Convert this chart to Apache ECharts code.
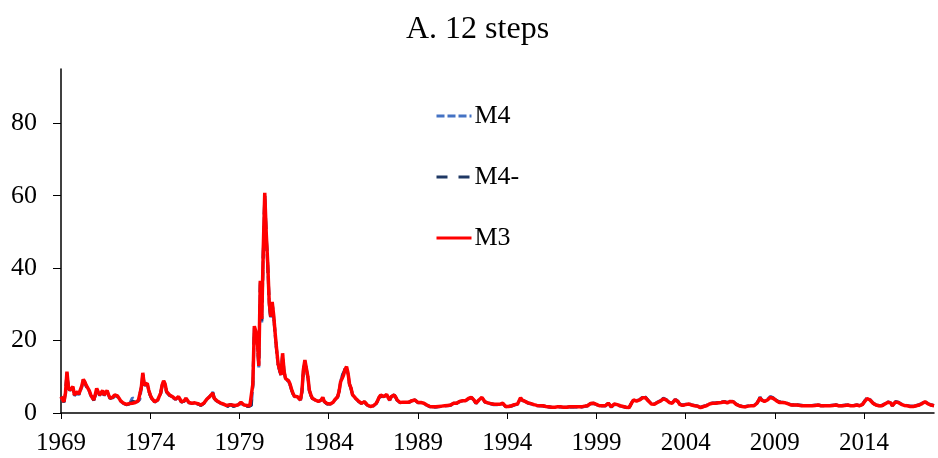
<!DOCTYPE html>
<html>
<head>
<meta charset="utf-8">
<title>A. 12 steps</title>
<script src="https://cdn.jsdelivr.net/npm/echarts/dist/echarts.min.js"></script>
<style>
    html, body {margin: 0; padding: 0; background: #fff;}
    #main_echart {width: 938px; height: 458px;}
</style>
</head>
<body>
<div id="main_echart"></div>
<script>
//monthly series, 1969-01 .. 2017-12
var firstYear = 1969;
var lastYear = 2017;
var yearTicks = ['1969', '1974', '1979', '1984', '1989', '1994', '1999', '2004', '2009', '2014'];
var yTicks = [0, 20, 40, 60, 80];
var seriesNames = ['M4', 'M4-', 'M3'];

var m4List = [
    4.3, 3.6, 3.0, 5.3, 11.0, 6.8, 6.0, 6.5, 7.0, 4.8, 5.2, 5.6,
    5.0, 4.8, 7.2, 9.0, 8.3, 7.3, 7.0, 6.0, 4.8, 4.1, 3.5, 4.8,
    6.5, 5.6, 4.8, 5.4, 6.0, 4.8, 5.4, 6.0, 4.8, 4.0, 3.5, 4.2,
    4.8, 5.2, 4.5, 4.0, 3.3, 2.8, 2.6, 2.4, 2.3, 2.3, 2.5, 2.4,
    4.2, 4.5, 3.6, 3.0, 3.3, 3.7, 6.8, 10.8, 7.5, 7.6, 8.0, 6.1,
    4.8, 4.0, 3.5, 3.0, 3.2, 3.5, 3.8, 5.3, 7.5, 8.7, 7.8, 5.7,
    5.2, 4.8, 4.7, 4.3, 4.0, 3.7, 3.7, 4.4, 3.7, 3.0, 3.5, 3.3,
    4.0, 3.4, 2.8, 2.7, 2.6, 2.6, 2.7, 2.8, 2.5, 2.3, 2.1, 2.3,
    2.6, 3.1, 3.7, 4.2, 4.6, 5.0, 5.8, 4.2, 3.5, 3.2, 3.0, 2.7,
    2.5, 2.4, 2.2, 2.0, 1.8, 2.1, 2.4, 2.1, 1.8, 2.0, 2.1, 2.1,
    2.5, 2.9, 2.5, 2.1, 1.9, 2.0, 1.8, 1.9, 2.1, 7.6, 23.5, 22.0,
    19.6, 12.6, 35.5, 25.0, 44.0, 60.0, 48.5, 40.5, 30.0, 26.0, 30.0, 26.5,
    21.5, 17.0, 13.2, 11.6, 10.3, 16.0, 11.2, 9.3, 8.9, 8.7, 7.8, 6.3,
    5.3, 4.5, 4.0, 4.4, 4.1, 3.5, 5.8, 11.6, 14.2, 13.9, 9.7, 6.1,
    4.9, 4.0, 3.7, 3.5, 3.3, 3.1, 3.3, 3.5, 4.2, 3.1, 2.6, 2.5,
    2.4, 2.4, 2.5, 2.9, 3.5, 3.9, 4.4, 6.0, 8.8, 10.2, 11.5, 12.2,
    12.5, 10.8, 7.8, 6.7, 5.0, 4.5, 4.0, 3.7, 3.2, 3.1, 2.6, 2.9,
    3.0, 2.5, 2.1, 1.9, 1.7, 1.6, 1.9, 2.3, 2.6, 3.4, 4.3, 4.8,
    4.6, 4.4, 4.7, 5.0, 4.1, 3.5, 4.4, 4.5, 4.9, 4.3, 3.5, 3.1,
    2.8, 2.6, 2.9, 3.2, 2.9, 2.6, 2.9, 3.2, 3.3, 3.4, 3.5, 3.1,
    2.8, 2.6, 2.8, 3.0, 2.6, 2.2, 2.1, 1.9, 1.7, 1.6, 1.6, 1.6,
    1.6, 1.7, 1.7, 1.8, 1.8, 1.9, 1.9, 1.9, 2.0, 2.0, 2.1, 2.3,
    2.6, 2.6, 2.6, 2.7, 3.1, 3.5, 3.3, 3.2, 3.3, 3.5, 3.9, 4.4,
    4.2, 4.0, 3.3, 2.6, 2.9, 3.5, 3.8, 4.2, 3.6, 3.0, 2.8, 2.7,
    2.6, 2.5, 2.4, 2.3, 2.3, 2.3, 2.3, 2.3, 2.4, 2.6, 2.2, 1.7,
    1.6, 1.7, 1.8, 1.9, 2.1, 2.2, 2.3, 2.4, 2.6, 4.1, 3.5, 3.3,
    3.1, 2.9, 2.7, 2.6, 2.5, 2.3, 2.2, 2.1, 2.0, 1.9, 1.9, 1.9,
    1.9, 1.8, 1.7, 1.6, 1.6, 1.6, 1.5, 1.5, 1.5, 1.6, 1.6, 1.6,
    1.6, 1.6, 1.5, 1.5, 1.5, 1.5, 1.6, 1.6, 1.6, 1.6, 1.6, 1.6,
    1.6, 1.6, 1.6, 1.7, 1.8, 1.9, 1.9, 2.1, 2.5, 3.0, 2.6, 2.3,
    2.3, 2.1, 1.9, 1.9, 1.9, 1.9, 1.9, 2.2, 2.6, 2.2, 1.6, 1.9,
    2.4, 2.6, 2.2, 1.9, 1.9, 1.8, 1.7, 1.6, 1.5, 1.5, 1.4, 1.4,
    3.1, 3.8, 3.6, 3.4, 3.5, 3.7, 3.9, 4.4, 4.9, 4.4, 4.0, 3.4,
    3.0, 2.6, 2.3, 2.5, 2.8, 3.0, 3.2, 3.4, 3.8, 4.1, 4.4, 3.7,
    3.2, 3.0, 2.9, 2.8, 3.3, 3.8, 4.1, 3.2, 2.5, 2.4, 2.2, 2.1,
    2.4, 2.8, 2.6, 2.4, 2.3, 2.2, 2.1, 2.1, 2.0, 1.8, 1.6, 1.7,
    1.9, 2.0, 2.1, 2.3, 2.6, 2.8, 2.8, 2.8, 2.8, 2.8, 2.9, 2.9,
    3.0, 3.1, 3.2, 3.1, 2.9, 2.8, 3.3, 3.8, 3.2, 2.8, 2.5, 2.3,
    2.1, 2.0, 1.9, 1.8, 1.8, 1.9, 2.0, 2.1, 2.1, 2.1, 2.1, 2.4,
    2.8, 3.5, 4.4, 3.7, 3.2, 3.3, 3.5, 3.8, 4.2, 4.6, 5.0, 4.2,
    3.8, 3.5, 3.2, 3.0, 3.0, 3.0, 3.0, 2.9, 2.8, 2.6, 2.4, 2.3,
    2.3, 2.3, 2.3, 2.3, 2.2, 2.2, 2.1, 2.1, 2.1, 2.1, 2.1, 2.1,
    2.1, 2.1, 2.1, 2.2, 2.3, 2.3, 2.2, 2.1, 2.1, 2.1, 2.1, 2.1,
    2.1, 2.1, 2.1, 2.2, 2.2, 2.3, 2.2, 2.1, 2.1, 2.1, 2.1, 2.2,
    2.3, 2.3, 2.2, 2.1, 2.1, 2.1, 2.2, 2.3, 2.2, 2.1, 2.1, 2.5,
    3.1, 3.6, 4.3, 4.2, 3.7, 3.2, 2.8, 2.5, 2.3, 2.2, 2.1, 2.1,
    2.1, 2.3, 2.6, 2.8, 3.1, 3.5, 2.8, 2.1, 2.6, 3.2, 3.5, 3.0,
    2.7, 2.5, 2.3, 2.2, 2.1, 2.1, 2.0, 1.9, 1.8, 1.9, 2.0, 2.1,
    2.2, 2.3, 2.5, 2.7, 3.0, 3.2, 2.9, 2.6, 2.5, 2.3, 2.2, 2.1
];

var m4minusList = [
    4.4, 3.7, 3.0, 5.4, 11.2, 6.9, 6.2, 6.7, 7.2, 4.9, 5.4, 5.8,
    5.1, 4.9, 7.4, 9.2, 8.5, 7.5, 7.2, 6.1, 4.9, 4.2, 3.5, 4.9,
    6.7, 5.7, 4.9, 5.5, 6.1, 4.9, 5.5, 6.1, 4.9, 4.0, 3.5, 4.3,
    4.9, 5.3, 4.6, 4.0, 3.3, 2.8, 2.6, 2.4, 2.3, 2.3, 2.5, 2.4,
    3.2, 3.6, 3.2, 3.1, 3.4, 3.8, 7.0, 11.0, 7.6, 7.8, 8.1, 6.2,
    4.9, 4.0, 3.5, 3.0, 3.2, 3.5, 3.8, 5.4, 7.6, 8.8, 7.9, 5.8,
    5.3, 4.9, 4.7, 4.4, 4.0, 3.7, 3.7, 4.4, 3.7, 3.0, 3.5, 3.3,
    4.0, 3.4, 2.8, 2.7, 2.6, 2.6, 2.7, 2.8, 2.5, 2.3, 2.1, 2.3,
    2.6, 3.1, 3.7, 4.1, 4.5, 4.9, 5.6, 4.1, 3.5, 3.2, 3.0, 2.7,
    2.5, 2.4, 2.2, 2.0, 1.8, 2.1, 2.4, 2.1, 1.8, 2.0, 2.1, 2.1,
    2.5, 2.9, 2.5, 2.1, 1.9, 2.0, 1.8, 1.9, 2.1, 7.8, 23.8, 22.3,
    19.8, 12.8, 36.0, 25.5, 44.5, 60.4, 49.0, 41.0, 30.2, 26.3, 30.4, 26.8,
    21.8, 17.3, 13.4, 11.8, 10.4, 16.3, 11.4, 9.4, 9.0, 8.8, 7.9, 6.4,
    5.3, 4.5, 4.0, 4.4, 4.1, 3.5, 5.9, 11.8, 14.4, 14.0, 9.8, 6.2,
    4.9, 4.0, 3.7, 3.5, 3.3, 3.1, 3.3, 3.5, 4.2, 3.1, 2.6, 2.5,
    2.4, 2.4, 2.5, 2.9, 3.5, 3.9, 4.4, 6.0, 8.7, 10.0, 11.2, 12.1,
    12.6, 10.9, 7.9, 6.8, 5.0, 4.5, 4.0, 3.7, 3.2, 3.1, 2.6, 2.9,
    3.1, 2.6, 2.2, 2.0, 1.8, 1.7, 2.0, 2.4, 2.7, 3.5, 4.4, 4.9,
    4.7, 4.5, 4.8, 5.1, 4.2, 3.6, 4.5, 4.6, 5.0, 4.4, 3.6, 3.2,
    2.9, 2.7, 3.0, 3.3, 3.0, 2.7, 3.0, 3.3, 3.4, 3.5, 3.6, 3.2,
    2.9, 2.7, 2.9, 3.1, 2.7, 2.3, 2.2, 2.0, 1.8, 1.7, 1.7, 1.7,
    1.7, 1.8, 1.8, 1.9, 1.9, 2.0, 2.0, 2.0, 2.1, 2.1, 2.2, 2.4,
    2.7, 2.7, 2.7, 2.8, 3.2, 3.6, 3.4, 3.3, 3.4, 3.6, 4.0, 4.5,
    4.3, 4.1, 3.4, 2.7, 3.0, 3.6, 3.9, 4.3, 3.7, 3.1, 2.9, 2.8,
    2.7, 2.6, 2.5, 2.4, 2.4, 2.4, 2.4, 2.4, 2.5, 2.7, 2.3, 1.8,
    1.7, 1.8, 1.9, 2.0, 2.2, 2.3, 2.4, 2.5, 2.7, 4.2, 3.6, 3.4,
    3.2, 3.0, 2.8, 2.7, 2.6, 2.4, 2.3, 2.2, 2.1, 2.0, 2.0, 2.0,
    2.0, 1.9, 1.8, 1.7, 1.7, 1.7, 1.6, 1.6, 1.6, 1.7, 1.7, 1.7,
    1.7, 1.7, 1.6, 1.6, 1.6, 1.6, 1.7, 1.7, 1.7, 1.7, 1.7, 1.7,
    1.7, 1.7, 1.7, 1.8, 1.9, 2.0, 2.0, 2.2, 2.6, 3.1, 2.7, 2.4,
    2.4, 2.2, 2.0, 2.0, 2.0, 2.0, 2.0, 2.3, 2.7, 2.3, 1.7, 2.0,
    2.5, 2.7, 2.3, 2.0, 2.0, 1.9, 1.8, 1.7, 1.6, 1.6, 1.5, 1.5,
    3.0, 3.7, 3.5, 3.3, 3.4, 3.6, 3.8, 4.3, 4.6, 4.3, 3.9, 3.3,
    2.9, 2.5, 2.2, 2.4, 2.7, 2.9, 3.1, 3.3, 3.7, 4.0, 4.3, 3.6,
    3.1, 2.9, 2.8, 2.7, 3.2, 3.7, 4.0, 3.1, 2.4, 2.3, 2.1, 2.0,
    2.3, 2.7, 2.5, 2.3, 2.2, 2.1, 2.0, 2.0, 1.9, 1.7, 1.5, 1.6,
    1.8, 1.9, 2.0, 2.2, 2.5, 2.7, 2.7, 2.7, 2.7, 2.7, 2.8, 2.8,
    2.9, 3.0, 3.1, 3.0, 2.8, 2.7, 3.2, 3.7, 3.1, 2.7, 2.4, 2.2,
    2.0, 1.9, 1.8, 1.7, 1.7, 1.8, 1.9, 2.0, 2.0, 2.0, 2.0, 2.3,
    2.7, 3.4, 4.3, 3.6, 3.1, 3.2, 3.4, 3.6, 4.1, 4.4, 4.7, 4.1,
    3.7, 3.5, 3.2, 3.0, 3.3, 3.2, 3.0, 2.9, 2.7, 2.5, 2.3, 2.2,
    2.2, 2.2, 2.2, 2.2, 2.1, 2.1, 2.0, 2.0, 2.0, 2.0, 2.0, 2.0,
    2.0, 2.0, 2.0, 2.1, 2.2, 2.2, 2.1, 2.0, 2.0, 2.0, 2.0, 2.0,
    2.0, 2.0, 2.0, 2.1, 2.1, 2.2, 2.1, 2.0, 2.0, 2.0, 2.0, 2.1,
    2.2, 2.2, 2.1, 2.0, 2.0, 2.0, 2.1, 2.2, 2.1, 2.0, 2.0, 2.4,
    3.0, 3.8, 4.2, 4.1, 3.6, 3.1, 2.7, 2.4, 2.2, 2.1, 2.0, 2.0,
    2.0, 2.2, 2.5, 2.7, 3.0, 3.4, 2.7, 2.0, 2.5, 3.1, 3.4, 2.9,
    2.6, 2.4, 2.2, 2.1, 2.0, 2.0, 1.9, 1.8, 1.7, 1.8, 1.9, 2.0,
    2.1, 2.2, 2.4, 2.6, 2.9, 3.1, 2.8, 2.5, 2.4, 2.2, 2.1, 2.0
];

var m3List = [
    4.5, 3.8, 3.1, 5.5, 11.4, 7.0, 6.3, 6.8, 7.3, 5.0, 5.5, 5.9,
    5.2, 5.0, 7.5, 9.3, 8.6, 7.6, 7.3, 6.2, 5.0, 4.3, 3.6, 5.0,
    6.8, 5.8, 5.0, 5.6, 6.2, 5.0, 5.6, 6.2, 5.0, 4.1, 3.6, 4.4,
    5.0, 5.4, 4.7, 4.1, 3.4, 2.9, 2.7, 2.5, 2.4, 2.4, 2.6, 2.5,
    2.7, 3.0, 2.9, 3.1, 3.4, 3.8, 7.0, 11.1, 7.7, 7.9, 8.2, 6.3,
    5.0, 4.1, 3.6, 3.1, 3.3, 3.6, 3.9, 5.5, 7.7, 8.9, 8.0, 5.9,
    5.4, 5.0, 4.8, 4.5, 4.1, 3.8, 3.8, 4.5, 3.8, 3.1, 3.6, 3.4,
    4.1, 3.5, 2.9, 2.8, 2.7, 2.7, 2.8, 2.9, 2.6, 2.4, 2.2, 2.4,
    2.7, 3.2, 3.8, 4.1, 4.5, 4.8, 5.5, 4.1, 3.6, 3.3, 3.1, 2.8,
    2.6, 2.5, 2.3, 2.1, 1.9, 2.2, 2.5, 2.2, 1.9, 2.1, 2.2, 2.2,
    2.6, 3.0, 2.6, 2.2, 2.0, 2.1, 1.9, 2.0, 2.2, 8.0, 24.0, 22.5,
    20.0, 13.0, 36.5, 26.0, 45.0, 60.8, 49.6, 41.3, 30.5, 26.6, 30.7, 27.0,
    22.0, 17.5, 13.5, 11.9, 10.5, 16.5, 11.5, 9.5, 9.1, 8.9, 8.0, 6.5,
    5.4, 4.6, 4.1, 4.5, 4.2, 3.6, 6.0, 12.0, 14.6, 14.2, 10.0, 6.3,
    5.0, 4.1, 3.8, 3.6, 3.4, 3.2, 3.4, 3.6, 4.3, 3.2, 2.7, 2.6,
    2.5, 2.5, 2.6, 3.0, 3.6, 4.0, 4.5, 6.0, 8.6, 9.5, 10.5, 12.0,
    12.8, 11.0, 8.0, 6.9, 5.1, 4.6, 4.1, 3.8, 3.3, 3.2, 2.7, 3.0,
    3.1, 2.6, 2.2, 2.0, 1.8, 1.7, 2.0, 2.4, 2.7, 3.5, 4.4, 5.0,
    4.7, 4.5, 4.8, 5.1, 4.2, 3.6, 4.5, 4.6, 5.0, 4.4, 3.6, 3.2,
    2.9, 2.7, 3.0, 3.3, 3.0, 2.7, 3.0, 3.3, 3.4, 3.5, 3.6, 3.2,
    2.9, 2.7, 2.9, 3.1, 2.7, 2.3, 2.2, 2.0, 1.8, 1.7, 1.7, 1.7,
    1.7, 1.8, 1.8, 1.9, 1.9, 2.0, 2.0, 2.0, 2.1, 2.1, 2.2, 2.4,
    2.7, 2.7, 2.7, 2.8, 3.2, 3.6, 3.4, 3.3, 3.4, 3.6, 4.0, 4.5,
    4.3, 4.1, 3.4, 2.7, 3.0, 3.6, 3.9, 4.3, 3.7, 3.1, 2.9, 2.8,
    2.7, 2.6, 2.5, 2.4, 2.4, 2.4, 2.4, 2.4, 2.5, 2.7, 2.3, 1.8,
    1.7, 1.8, 1.9, 2.0, 2.2, 2.3, 2.4, 2.5, 2.7, 4.2, 3.6, 3.4,
    3.2, 3.0, 2.8, 2.7, 2.6, 2.4, 2.3, 2.2, 2.1, 2.0, 2.0, 2.0,
    2.0, 1.9, 1.8, 1.7, 1.7, 1.7, 1.6, 1.6, 1.6, 1.7, 1.7, 1.7,
    1.7, 1.7, 1.6, 1.6, 1.6, 1.6, 1.7, 1.7, 1.7, 1.7, 1.7, 1.7,
    1.7, 1.7, 1.7, 1.8, 1.9, 2.0, 2.0, 2.2, 2.6, 3.1, 2.7, 2.4,
    2.4, 2.2, 2.0, 2.0, 2.0, 2.0, 2.0, 2.3, 2.7, 2.3, 1.7, 2.0,
    2.5, 2.7, 2.3, 2.0, 2.0, 1.9, 1.8, 1.7, 1.6, 1.6, 1.5, 1.5,
    3.0, 3.6, 3.5, 3.3, 3.4, 3.6, 3.8, 4.2, 4.5, 4.2, 3.9, 3.3,
    2.9, 2.5, 2.2, 2.4, 2.7, 2.9, 3.1, 3.3, 3.6, 3.9, 4.2, 3.6,
    3.1, 2.9, 2.8, 2.7, 3.2, 3.7, 3.9, 3.1, 2.4, 2.3, 2.1, 2.0,
    2.3, 2.7, 2.5, 2.3, 2.2, 2.1, 2.0, 2.0, 1.9, 1.7, 1.5, 1.6,
    1.8, 1.9, 2.0, 2.2, 2.5, 2.7, 2.7, 2.7, 2.7, 2.7, 2.8, 2.8,
    2.9, 3.0, 3.1, 3.0, 2.8, 2.7, 3.2, 3.6, 3.1, 2.7, 2.4, 2.2,
    2.0, 1.9, 1.8, 1.7, 1.7, 1.8, 1.9, 2.0, 2.0, 2.0, 2.0, 2.3,
    2.7, 3.4, 4.2, 3.6, 3.1, 3.2, 3.4, 3.6, 4.0, 4.3, 4.5, 4.0,
    3.6, 3.4, 3.1, 2.9, 2.9, 2.9, 2.9, 2.8, 2.7, 2.5, 2.3, 2.2,
    2.2, 2.2, 2.2, 2.2, 2.1, 2.1, 2.0, 2.0, 2.0, 2.0, 2.0, 2.0,
    2.0, 2.0, 2.0, 2.1, 2.2, 2.2, 2.1, 2.0, 2.0, 2.0, 2.0, 2.0,
    2.0, 2.0, 2.0, 2.1, 2.1, 2.2, 2.1, 2.0, 2.0, 2.0, 2.0, 2.1,
    2.2, 2.2, 2.1, 2.0, 2.0, 2.0, 2.1, 2.2, 2.1, 2.0, 2.0, 2.4,
    3.0, 3.4, 4.0, 4.0, 3.6, 3.1, 2.7, 2.4, 2.2, 2.1, 2.0, 2.0,
    2.0, 2.2, 2.5, 2.7, 3.0, 3.3, 2.7, 2.0, 2.5, 3.0, 3.3, 2.9,
    2.6, 2.4, 2.2, 2.1, 2.0, 2.0, 1.9, 1.8, 1.7, 1.8, 1.9, 2.0,
    2.1, 2.2, 2.4, 2.6, 2.9, 3.1, 2.8, 2.5, 2.4, 2.2, 2.1, 2.0
];

//月份类目
var monthList = [];
for (var y = firstYear; y <= lastYear; y++) {
    for (var m = 1; m <= 12; m++) {
        monthList.push(y + '-' + (m < 10 ? '0' + m : m));
    }
}

var serif = '"Liberation Serif", "Times New Roman", serif';
var myChart = echarts.init(document.getElementById('main_echart'), null, {renderer: 'canvas'});

var option = {
    animation: false,
    backgroundColor: '#fff',
    title: {
        text: 'A. 12 steps',
        left: 401,
        top: 9,
        textStyle: {
            fontFamily: serif,
            fontSize: 32,
            fontWeight: 'normal',
            color: '#000'
        }
    },
    legend: {
        data: seriesNames,
        orient: 'vertical',
        left: 435,
        top: 103,
        padding: 0,
        itemWidth: 35,
        itemHeight: 26,
        itemGap: 35,
        //只显示线条，不显示圆点
        itemStyle: {opacity: 0},
        lineStyle: {width: 3},
        textStyle: {
            fontFamily: serif,
            fontSize: 26,
            color: '#000',
            padding: [0, 0, 0, -2]
        }
    },
    grid: {
        left: 61,
        right: 4,
        top: 69,
        bottom: 45
    },
    xAxis: {
        type: 'category',
        data: monthList,
        boundaryGap: false,
        axisLine: {lineStyle: {color: '#000', width: 1.5}},
        axisTick: {
            interval: 59,
            length: 6,
            lineStyle: {color: '#000'}
        },
        axisLabel: {
            interval: 59,
            margin: 18,
            fontFamily: serif,
            fontSize: 25,
            color: '#000',
            formatter: function (value) {
                var yr = value.substring(0, 4);
                return yearTicks.indexOf(yr) >= 0 ? yr : '';
            }
        },
        splitLine: {show: false}
    },
    yAxis: {
        type: 'value',
        min: 0,
        max: 95,
        interval: 20,
        axisLine: {show: true, lineStyle: {color: '#000', width: 1.5}},
        axisTick: {
            show: true,
            length: 8,
            customValues: yTicks,
            lineStyle: {color: '#000'}
        },
        axisLabel: {
            margin: 24,
            customValues: yTicks,
            fontFamily: serif,
            fontSize: 26,
            color: '#000'
        },
        splitLine: {show: false}
    },
    series: [
        {
            name: 'M4',
            type: 'line',
            data: m4List,
            symbol: 'none',
            lineStyle: {color: '#4472C4', width: 3, type: [8, 3]},
            itemStyle: {color: '#4472C4'}
        },
        {
            name: 'M4-',
            type: 'line',
            data: m4minusList,
            symbol: 'none',
            lineStyle: {color: '#1F3864', width: 3, type: [11, 11]},
            itemStyle: {color: '#1F3864'}
        },
        {
            name: 'M3',
            type: 'line',
            data: m3List,
            symbol: 'none',
            lineStyle: {color: '#FF0000', width: 3.5},
            itemStyle: {color: '#FF0000'}
        }
    ]
};

myChart.setOption(option);
</script>
</body>
</html>
